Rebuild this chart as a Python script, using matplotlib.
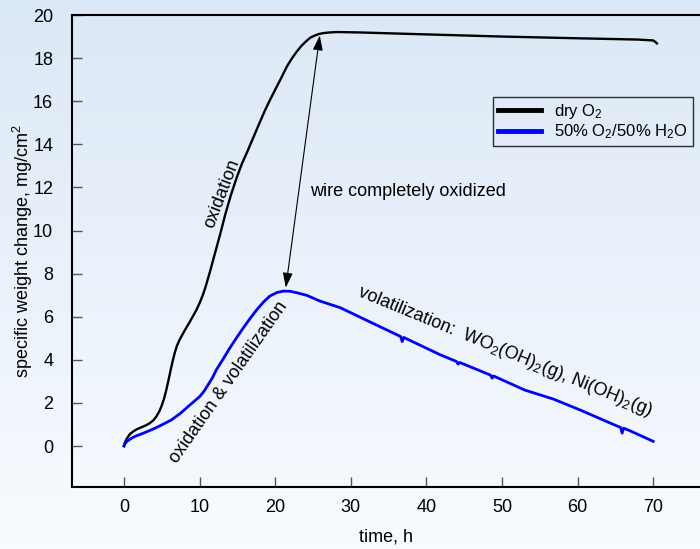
import numpy as np
import matplotlib
matplotlib.use("Agg")
import matplotlib.pyplot as plt

plt.rcParams['font.family'] = ['Liberation Sans', 'DejaVu Sans']
plt.rcParams['mathtext.fontset'] = 'custom'
plt.rcParams['mathtext.rm'] = 'Liberation Sans'
plt.rcParams['mathtext.it'] = 'Liberation Sans'

# dry O2 curve (time in h, weight change in mg/cm2)
dry_t = [0, 0.09, 0.3, 0.53, 0.8, 1.19, 1.7, 2.29, 2.9, 3.4, 3.9, 4.28, 4.65,
         4.94, 5.3, 5.6, 5.9, 6.18, 6.45, 6.71, 7.0, 7.37, 7.8, 8.24, 8.7,
         9.13, 9.6, 10.02, 10.4, 10.76, 11.34, 12.0, 12.7, 13.4, 14.1, 14.9,
         15.6, 16.3, 17.33, 18.0, 18.66, 19.3, 19.98, 20.8, 21.53, 22.2,
         22.85, 23.5, 24.18, 24.7, 25.27, 25.8, 26.37, 27.2, 28.15, 31.2,
         40, 50, 60, 68, 70, 70.3, 70.5]
dry_w = [0, 0.13, 0.3, 0.43, 0.56, 0.67, 0.78, 0.87, 0.96, 1.06, 1.2, 1.37, 1.6,
         1.83, 2.2, 2.61, 3.08, 3.54, 3.96, 4.32, 4.65, 4.94, 5.22, 5.49, 5.76,
         6.03, 6.33, 6.65, 6.98, 7.35, 8.05, 8.9, 9.8, 10.75, 11.6, 12.45,
         13.1, 13.65, 14.5, 15.05, 15.58, 16.05, 16.52, 17.08, 17.6, 17.98,
         18.3, 18.58, 18.81, 18.96, 19.05, 19.12, 19.16, 19.19, 19.21, 19.19,
         19.1, 19.0, 18.92, 18.86, 18.82, 18.75, 18.68]

# 50% O2 / 50% H2O curve
wet_t = [0, 0.09, 0.4, 0.97, 1.6, 2.29, 3.2, 4.06, 5.1, 6.26, 7.4, 8.47, 9.3,
         10.02, 10.6, 11.12, 11.7, 12.22, 13.1, 14.0, 14.9, 15.8, 16.7, 17.6,
         18.5, 19.3, 20.2, 21.1, 22.0, 23.0, 24.2, 25.9, 28.6, 32.0, 36.6,
         36.8, 37.0, 41.8, 44.0, 44.2, 44.4, 48.5, 48.7, 48.9, 53.0, 56.8,
         60.5, 63.9, 65.7, 65.9, 66.1, 67.0, 70.0]
wet_w = [0, 0.09, 0.22, 0.36, 0.47, 0.56, 0.69, 0.82, 1.0, 1.21, 1.5, 1.83, 2.08,
         2.3, 2.55, 2.84, 3.17, 3.54, 4.03, 4.55, 5.03, 5.49, 5.93, 6.34,
         6.7, 6.96, 7.12, 7.19, 7.18, 7.1, 6.99, 6.73, 6.42, 5.85, 5.08,
         4.85, 5.04, 4.24, 3.92, 3.8, 3.88, 3.29, 3.15, 3.25, 2.6, 2.18,
         1.65, 1.13, 0.86, 0.6, 0.83, 0.7, 0.22]

xticks = [0, 10, 20, 30, 40, 50, 60, 70]
yticks = [0, 2, 4, 6, 8, 10, 12, 14, 16, 18, 20]

fig = plt.figure(figsize=(7, 5.49), dpi=100)

# light blue gradient background
bg = fig.add_axes([0, 0, 1, 1], zorder=-1)
top = np.array([0.86, 0.91, 0.965])
bot = np.array([0.975, 0.985, 1.0])
f = np.linspace(0, 1, 256)[:, None]
grad = top * (1 - f) + bot * f
bg.imshow(grad[:, None, :], aspect='auto', extent=[0, 1, 0, 1])
bg.axis('off')

ax = fig.add_axes([72 / 700, 1 - 487 / 549, 1 - 72 / 700, (487 - 15) / 549])
ax.set_facecolor('none')

ax.plot(dry_t, dry_w, color='black', lw=1.7, label='dry O$_2$')
ax.plot(wet_t, wet_w, color='#0000ff', lw=2.0, label='50% O$_2$/50% H$_2$O')

ax.set_xlim(-6.88, 76.2)
ax.set_ylim(-1.9, 20.0)
ax.set_xticks(xticks)
ax.set_yticks(yticks)

for s in ['left', 'bottom', 'top']:
    ax.spines[s].set_linewidth(1.5)
ax.spines['right'].set_visible(False)
ax.tick_params(direction='in', length=7, width=1, color='#555555',
               labelsize=13)
ax.tick_params(axis='y', pad=13.5)
ax.tick_params(axis='x', pad=9)

ax.set_xlabel('time, h', fontsize=13, labelpad=9)
ax.set_ylabel('specific weight change, mg/cm$^2$', fontsize=13, labelpad=-1)

# arrow between the two curves
ax.annotate('', xy=(21.4, 7.35), xytext=(25.9, 19.05),
            arrowprops=dict(arrowstyle='<|-|>,head_length=0.6,head_width=0.2',
                            color='black', lw=0.8, mutation_scale=15,
                            shrinkA=0, shrinkB=0))

ax.text(24.6, 11.8, 'wire completely oxidized', fontsize=13,
        ha='left', va='center')
ax.text(13.0, 11.7, 'oxidation', fontsize=13, rotation=69,
        ha='center', va='center', rotation_mode='anchor')
ax.text(13.8, 2.95, 'oxidation & volatilization', fontsize=13, rotation=55,
        ha='center', va='center', rotation_mode='anchor')
ax.text(50.3, 4.4, 'volatilization:  WO$_2$(OH)$_2$(g), Ni(OH)$_2$(g)',
        fontsize=13, rotation=-22.3, ha='center', va='center',
        rotation_mode='anchor')

leg = ax.legend(loc='upper right', bbox_to_anchor=(693 / 700, 1 - 97 / 549),
                bbox_transform=fig.transFigure, borderaxespad=0,
                fontsize=12, handlelength=2.6, frameon=True, fancybox=False,
                labelspacing=0.1, borderpad=0.3, handletextpad=0.8)
leg.get_frame().set_facecolor('none')
leg.get_frame().set_edgecolor('black')
leg.get_frame().set_linewidth(1)
for line in leg.get_lines():
    line.set_linewidth(3.5)

fig.savefig('out.png', dpi=100)
